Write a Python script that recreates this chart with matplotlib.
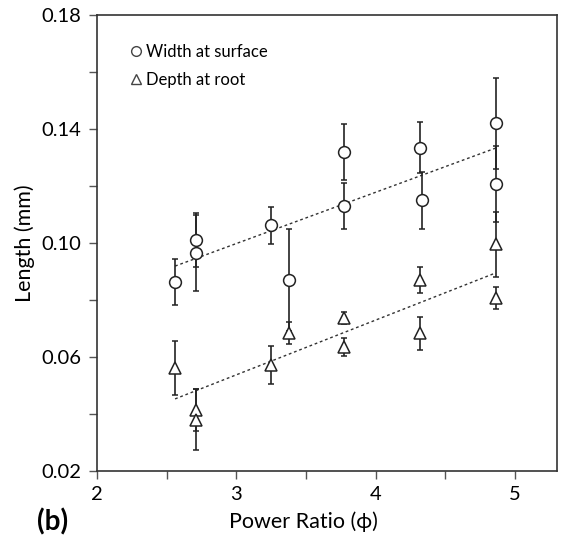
import matplotlib.pyplot as plt
from matplotlib.lines import Line2D

plt.rcParams["font.family"] = ["Lato", "DejaVu Sans"]

# width at surface (circles)
w_x = [2.56, 2.71, 2.71, 3.25, 3.38, 3.77, 3.77, 4.32, 4.33, 4.86, 4.86]
w_y = [0.0863, 0.1010, 0.0965, 0.1063, 0.0870, 0.1320, 0.1130, 0.1335, 0.1150, 0.1420, 0.1207]
w_err = [0.0080, 0.0095, 0.0135, 0.0065, 0.0180, 0.0098, 0.0080, 0.0090, 0.0100, 0.0160, 0.0135]

# depth at root (triangles)
d_x = [2.56, 2.71, 2.71, 3.25, 3.38, 3.77, 3.77, 4.32, 4.32, 4.86, 4.86]
d_y = [0.0561, 0.0414, 0.0380, 0.0572, 0.0684, 0.0737, 0.0635, 0.0870, 0.0684, 0.0995, 0.0807]
d_err = [0.0095, 0.0075, 0.0108, 0.0065, 0.0040, 0.0020, 0.0030, 0.0045, 0.0058, 0.0115, 0.0040]

# linear trend line end points
w_fit_x = [2.56, 4.86]
w_fit_y = [0.0919, 0.1333]
d_fit_x = [2.56, 4.86]
d_fit_y = [0.0453, 0.0895]

fig = plt.figure(figsize=(5.61, 5.39), dpi=100)
ax = fig.add_axes([97 / 561, 1 - 471 / 539, 460 / 561, 456 / 539])

ax.plot(w_fit_x, w_fit_y, linestyle=(0, (2, 2)), color="#333333", linewidth=1.0)
ax.plot(d_fit_x, d_fit_y, linestyle=(0, (2, 2)), color="#333333", linewidth=1.0)

ax.errorbar(w_x, w_y, yerr=w_err, fmt="o", mfc="white", mec="#222222", ms=8.5,
            mew=1.1, ecolor="#222222", elinewidth=1.2, capsize=2.2, capthick=1.0,
            zorder=3)
ax.errorbar(d_x, d_y, yerr=d_err, fmt="^", mfc="white", mec="#222222", ms=8.5,
            mew=1.1, ecolor="#222222", elinewidth=1.2, capsize=2.2, capthick=1.0,
            zorder=3)

ax.set_xlim(2, 5.3)
ax.set_ylim(0.02, 0.18)
ax.set_xticks([2, 2.5, 3, 3.5, 4, 4.5, 5])
ax.set_xticklabels(["2", "", "3", "", "4", "", "5"])
ax.set_yticks([0.02, 0.04, 0.06, 0.08, 0.10, 0.12, 0.14, 0.16, 0.18])
ax.set_yticklabels(["0.02", "", "0.06", "", "0.10", "", "0.14", "", "0.18"])
ax.tick_params(direction="out", length=6, width=1, labelsize=14.5, color="#555555", pad=5)

for s in ax.spines.values():
    s.set_color("#333333")
    s.set_linewidth(1.2)

ax.set_xlabel("Power Ratio (\u03d5)", fontsize=15.5, va="center")
ax.xaxis.set_label_coords((303 - 97) / 460, -(522 - 471) / 456)
ax.set_ylabel("Length (mm)", fontsize=15.5, va="center")
ax.yaxis.set_label_coords(-(97 - 25) / 460, 0.5)

handles = [
    Line2D([], [], linestyle="none", marker="o", mfc="white", mec="#444444", ms=7, mew=1.0),
    Line2D([], [], linestyle="none", marker="^", mfc="white", mec="#444444", ms=7, mew=1.0),
]
ax.legend(handles, ["Width at surface", "Depth at root"], loc="upper left",
          bbox_to_anchor=(0.052, 0.952), frameon=False, fontsize=12,
          handletextpad=0.1, handlelength=1.0, labelspacing=0.75, borderaxespad=0)

fig.text(37 / 561, 1 - 522 / 539, "(b)", fontsize=20, fontweight="bold", va="center")

fig.savefig("out.png", dpi=100)
